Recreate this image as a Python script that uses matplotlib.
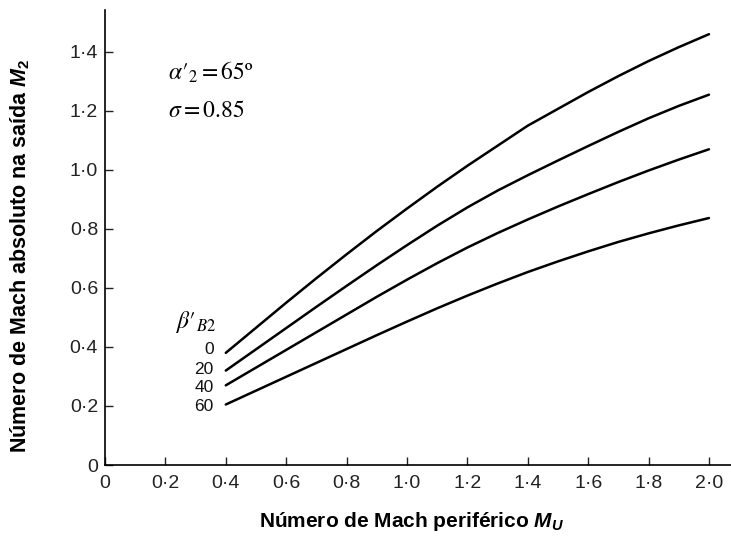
import matplotlib
matplotlib.use("Agg")
import matplotlib.pyplot as plt

plt.rcParams["font.family"] = ["Liberation Sans", "DejaVu Sans"]
plt.rcParams["mathtext.fontset"] = "custom"
plt.rcParams["mathtext.rm"] = "Liberation Sans:bold"
plt.rcParams["mathtext.it"] = "Liberation Sans:italic:bold"
plt.rcParams["mathtext.bf"] = "Liberation Sans:bold"

# peripheral Mach number M_U
mach_u = [0.4, 0.5, 0.6, 0.7, 0.8, 0.9, 1.0, 1.1, 1.2, 1.3, 1.4, 1.5, 1.6, 1.7, 1.8, 1.9, 2.0]

# absolute exit Mach number M_2 for each blade angle beta'_B2
beta_labels = ["0", "20", "40", "60"]
m2_beta0 = [0.38, 0.465, 0.55, 0.633, 0.714, 0.793, 0.869, 0.943, 1.014, 1.082, 1.15,
            1.207, 1.264, 1.318, 1.369, 1.416, 1.46]
m2_beta20 = [0.32, 0.392, 0.464, 0.536, 0.607, 0.677, 0.745, 0.811, 0.873, 0.93, 0.982,
             1.032, 1.081, 1.129, 1.175, 1.217, 1.255]
m2_beta40 = [0.27, 0.33, 0.39, 0.45, 0.51, 0.57, 0.628, 0.684, 0.737, 0.786, 0.832,
             0.876, 0.918, 0.959, 0.998, 1.035, 1.07]
m2_beta60 = [0.205, 0.252, 0.299, 0.346, 0.393, 0.44, 0.486, 0.531, 0.574, 0.615, 0.654,
             0.69, 0.724, 0.756, 0.785, 0.812, 0.837]

x_ticks = [0, 0.2, 0.4, 0.6, 0.8, 1.0, 1.2, 1.4, 1.6, 1.8, 2.0]
x_ticklabels = ["0", "0·2", "0·4", "0·6", "0·8", "1·0", "1·2", "1·4", "1·6", "1·8", "2·0"]
y_ticks = [0, 0.2, 0.4, 0.6, 0.8, 1.0, 1.2, 1.4]
y_ticklabels = ["0", "0·2", "0·4", "0·6", "0·8", "1·0", "1·2", "1·4"]

# where the beta labels sit (spread a bit so they don't collide)
label_y = [0.39, 0.325, 0.262, 0.197]

fig = plt.figure(figsize=(7.31, 5.43), dpi=100)
ax = fig.add_axes([105 / 731, 1 - 465 / 543, 626 / 731, 455 / 543])

series = [m2_beta0, m2_beta20, m2_beta40, m2_beta60]
for lab, ys, ly in zip(beta_labels, series, label_y):
    ax.plot(mach_u, ys, color="black", lw=1.8, solid_capstyle="round")
    ax.text(mach_u[0] - 0.04, ly, lab, ha="right", va="center",
            fontsize=12.5, color="#111111")

ax.set_xlim(0, 2.073)
ax.set_ylim(0, 1.542)
ax.set_xticks(x_ticks)
ax.set_xticklabels(x_ticklabels)
ax.set_yticks(y_ticks)
ax.set_yticklabels(y_ticklabels)
ax.tick_params(direction="in", length=6, width=1.0, labelsize=14,
               colors="#222222")
ax.tick_params(axis="x", pad=7)
ax.tick_params(axis="y", pad=5)
for s in ["top", "right"]:
    ax.spines[s].set_visible(False)
for s in ["left", "bottom"]:
    ax.spines[s].set_linewidth(1.2)

ax.text(0.49, -0.125, r"Número de Mach periférico $M_U$", transform=ax.transAxes,
        ha="center", va="center", fontsize=15, fontweight="bold")
ax.text(-0.135, 0.46, r"Número de Mach absoluto na saída $M_2$", transform=ax.transAxes,
        ha="center", va="center", rotation=90, fontsize=15.5, fontweight="bold")

ax.text(0.21, 1.33, r"$\alpha{\prime}_2 = 65$º", fontsize=17, family="STIXGeneral",
        math_fontfamily="stix", ha="left", va="center")
ax.text(0.21, 1.20, r"$\sigma = 0.85$", fontsize=17, family="STIXGeneral",
        math_fontfamily="stix", ha="left", va="center")
ax.text(0.30, 0.485, r"$\beta{\prime}_{B2}$", fontsize=17, family="STIXGeneral",
        math_fontfamily="stix", ha="center", va="center")

fig.savefig("out.png", dpi=100)
